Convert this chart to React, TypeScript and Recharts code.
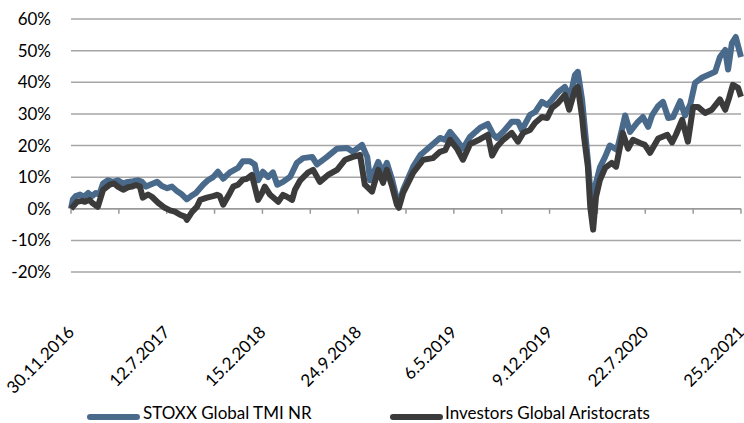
import { LineChart, Line, XAxis, YAxis, CartesianGrid, ReferenceLine, Legend } from 'recharts';

const FONT = 'Lato, "Noto Sans", sans-serif';
const BLUE = '#4A6A8C';
const DARK = '#3B3B3B';

// x axis runs from 0 to 140 (one tick mark every 10, a date every 20)
const dateLabels = ['30.11.2016', '12.7.2017', '15.2.2018', '24.9.2018', '6.5.2019', '9.12.2019', '22.7.2020', '25.2.2021'];
const labelPositions = [0, 20, 40, 60, 80, 100, 120, 140];
const tickMarks = [0, 10, 20, 30, 40, 50, 60, 70, 80, 90, 100, 110, 120, 130, 140];
const yTicks = [-20, -10, 0, 10, 20, 30, 40, 50, 60];

const stoxxDay = [
  0, 0.4, 1.0, 1.9, 2.7, 3.6, 4.4, 5.2, 5.9, 6.7, 7.7, 8.8, 9.8, 10.9, 11.9, 13.0, 14.0, 14.8, 15.7, 16.9,
  18.0, 19.0, 20.1, 21.1, 22.2, 23.2, 24.2, 25.1, 26.1, 27.6, 28.6, 29.7, 30.7, 31.8, 33.2, 34.9, 35.9, 37.4, 38.4, 39.1,
  40.1, 41.2, 42.2, 43.1, 44.3, 45.8, 47.2, 48.5, 50.4, 51.4, 53.5, 55.6, 57.7, 58.9, 60.8, 61.9, 62.5, 63.5, 64.2, 65.2,
  66.0, 67.1, 68.1, 68.5, 69.4, 71.5, 73.0, 75.0, 77.1, 78.2, 79.2, 80.7, 81.9, 83.4, 85.5, 87.1, 88.2, 89.0, 90.3, 92.1,
  93.4, 94.2, 95.9, 97.0, 98.4, 99.5, 100.5, 101.8, 103.2, 104.3, 105.3, 105.9, 106.8, 107.4, 108.0, 108.5, 108.9, 109.5, 110.5, 111.6,
  112.6, 114.1, 115.1, 115.8, 116.8, 118.3, 119.5, 120.6, 121.4, 122.7, 123.7, 124.8, 125.8, 127.3, 128.3, 129.4, 130.4, 131.9, 133.1, 134.6,
  135.6, 136.7, 137.3, 138.1, 138.9, 140.0,
];
const stoxxValue = [
  0, 3, 4, 4.5, 3.8, 5, 4, 5, 4.5, 8, 9, 8.5, 9, 8, 8.5, 8.7, 9, 8.5, 7, 7.8,
  8.5, 7.2, 6.5, 7, 5.5, 4.5, 3, 4, 5, 7.6, 9, 10, 11.7, 9.5, 11.5, 12.9, 15, 15, 14, 9,
  11.7, 10, 11.5, 7.6, 8.5, 10.1, 14.5, 16, 16.4, 14, 16.4, 19, 19.2, 18, 20.2, 16.4, 9, 12.3, 14.8, 11.4,
  14.5, 9.2, 3, 1.5, 6, 13.3, 17, 19.6, 22.4, 21.8, 24.3, 21.5, 19, 22.8, 25.6, 26.8, 23.5, 22.4, 24.3, 27.5,
  27.5, 24.9, 29.7, 30.6, 33.8, 32.8, 34.4, 36.9, 38.5, 35.4, 42.3, 43.3, 34.4, 24.9, 15.5, 6, 2.8, 7, 13, 16.4,
  20, 18.6, 25, 29.5, 24.3, 27.2, 29, 25.9, 29.5, 32.5, 33.8, 28.7, 29, 34, 29.5, 33, 39.8, 41.5, 42.3, 43.3,
  48, 50.2, 44, 52.4, 54.3, 48,
];

const aristoDay = [
  0, 0.6, 1.3, 2.3, 2.9, 3.8, 4.4, 5.6, 6.7, 8.1, 9.0, 9.8, 10.9, 11.9, 12.7, 13.6, 14.4, 15.0, 16.1, 16.9,
  18.2, 19.6, 20.7, 21.7, 22.8, 23.8, 24.2, 25.3, 26.3, 27.0, 28.4, 29.7, 30.5, 31.1, 31.8, 33.2, 33.9, 34.9, 35.9, 36.8,
  37.8, 38.4, 39.1, 39.9, 40.5, 41.6, 43.3, 44.3, 45.1, 46.2, 46.8, 47.9, 49.5, 50.6, 52.0, 53.7, 55.6, 57.3, 58.9, 60.4,
  61.4, 62.9, 64.2, 65.2, 66.0, 67.1, 68.1, 68.5, 69.4, 71.5, 73.6, 75.6, 77.1, 78.2, 79.2, 80.7, 81.9, 83.4, 85.5, 87.1,
  88.0, 89.0, 90.3, 92.1, 93.4, 94.5, 95.9, 97.0, 98.4, 99.5, 100.5, 101.8, 103.2, 104.1, 105.3, 105.9, 106.8, 107.2, 108.0, 108.5,
  109.1, 109.7, 110.5, 111.6, 113.0, 113.9, 114.3, 115.3, 116.4, 117.4, 118.9, 119.9, 121.0, 122.7, 124.6, 125.6, 126.4, 127.7, 128.9, 130.0,
  131.0, 132.5, 133.9, 135.6, 136.7, 137.5, 138.3, 139.4, 140.0,
];
const aristoValue = [
  0, 1, 2.2, 2.5, 2.2, 2.8, 1.9, 0.6, 6, 7.6, 8, 7, 6, 6.8, 7, 7.5, 7, 3.5, 4.5, 3.8,
  1.9, 0.3, -0.5, -0.9, -1.9, -2.5, -3.5, -1, 0.6, 2.8, 3.5, 4, 4.4, 4, 1.3, 5, 7, 7.6, 9.2, 9.5,
  10.7, 7, 2.8, 5, 7, 4.4, 2.2, 4.4, 3.8, 2.8, 6, 9, 11.4, 12.3, 8.5, 10.7, 12.3, 15.5, 16.4, 17,
  7.6, 5.4, 12.3, 8.2, 12.3, 7, 1.3, 0.3, 5, 11.4, 15.5, 16, 18, 18.5, 21.8, 18.9, 15.5, 20.5, 22, 23.4,
  16.8, 19.6, 21.8, 24, 21.2, 24, 24.9, 27.2, 29, 28.7, 31.9, 33.5, 36, 31.3, 37.6, 38.5, 29, 22.7, 13.3, 0.6,
  -6.6, 3.8, 9, 12.9, 14.5, 13.3, 16.4, 24, 19, 21.8, 20.8, 20.2, 17.7, 22.2, 23.4, 21, 23.4, 28.1, 21.2, 32.2,
  32.2, 30.3, 31.3, 34.6, 31.3, 35, 39.2, 38.2, 35.4,
];

const stoxxData = stoxxDay.map((day, i) => ({ day, value: stoxxValue[i] }));
const aristoData = aristoDay.map((day, i) => ({ day, value: aristoValue[i] }));

const DateTick = ({ x, y, payload }: any) => {
  const label = dateLabels[labelPositions.indexOf(payload.value)];
  return (
    <g transform={`translate(${x},${y + 55}) rotate(-45)`}>
      <text x={0} y={0} dy="0.35em" textAnchor="end" fontFamily={FONT} fontSize={17} fill="#000">
        {label}
      </text>
    </g>
  );
};

const LegendContent = () => (
  <div style={{ position: 'relative', height: 26, fontFamily: FONT, fontSize: 17, color: '#000' }}>
    <span style={{ position: 'absolute', left: 87, top: 17, width: 53, height: 6, borderRadius: 3, background: BLUE }} />
    <span style={{ position: 'absolute', left: 143, top: 5, whiteSpace: 'nowrap' }}>STOXX Global TMI NR</span>
    <span style={{ position: 'absolute', left: 390, top: 17, width: 53, height: 6, borderRadius: 3, background: DARK }} />
    <span style={{ position: 'absolute', left: 445, top: 5, whiteSpace: 'nowrap' }}>Investors Global Aristocrats</span>
  </div>
);

export default function App() {
  return (
    <div style={{ position: 'absolute', left: 0, top: 0, background: '#fff' }}>
      <LineChart width={744} height={423} margin={{ top: 19, right: 3, left: 0, bottom: 0 }}>
        <CartesianGrid vertical={false} stroke="#A6A6A6" strokeWidth={1.5} />
        <XAxis
          dataKey="day"
          type="number"
          domain={[0, 140]}
          ticks={labelPositions}
          tick={<DateTick />}
          axisLine={false}
          tickLine={false}
          tickSize={0}
          height={125}
          interval={0}
          allowDuplicatedCategory={false}
        />
        <YAxis
          domain={[-20, 60]}
          ticks={yTicks}
          tickFormatter={(v: number) => `${v}%`}
          axisLine={false}
          tickLine={false}
          tickSize={0}
          tickMargin={20}
          width={71}
          interval={0}
          tick={{ fontFamily: FONT, fontSize: 17, fill: '#000' }}
        />
        <ReferenceLine y={0} stroke="#999" strokeWidth={1.5} />
        {tickMarks.map((t) => (
          <ReferenceLine
            key={t}
            segment={[{ x: t, y: 0 }, { x: t, y: -1.6 }]}
            stroke="#999"
            strokeWidth={1.5}
          />
        ))}
        <Line
          data={stoxxData}
          dataKey="value"
          type="linear"
          stroke={BLUE}
          strokeWidth={6}
          dot={false}
          isAnimationActive={false}
          strokeLinejoin="round"
        />
        <Line
          data={aristoData}
          dataKey="value"
          type="linear"
          stroke={DARK}
          strokeWidth={6}
          dot={false}
          isAnimationActive={false}
          strokeLinejoin="round"
        />
        <Legend verticalAlign="bottom" content={<LegendContent />} wrapperStyle={{ left: 0, width: 744 }} />
      </LineChart>
    </div>
  );
}
